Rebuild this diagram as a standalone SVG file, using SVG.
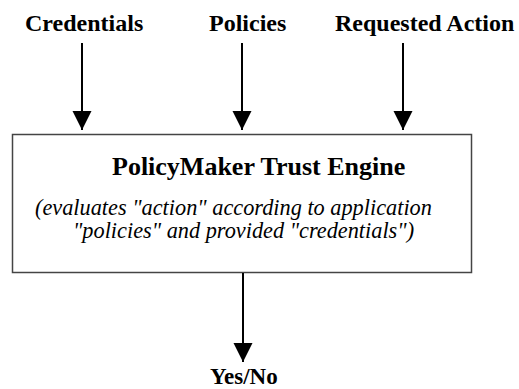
<svg xmlns="http://www.w3.org/2000/svg" width="519" height="389" viewBox="0 0 519 389">
<style>
.lbl{font-family:"Liberation Serif","Times New Roman",serif;font-weight:bold;font-size:24px;fill:#000}
.title{font-family:"Liberation Serif","Times New Roman",serif;font-weight:bold;font-size:26px;fill:#000}
.desc{font-family:"Liberation Serif","Times New Roman",serif;font-style:italic;font-size:22.3px;fill:#000}
.box{fill:#fff;stroke:#444;stroke-width:1.5}
.conn{stroke:#000;stroke-width:2;fill:none}
</style>
<defs>
<marker id="arr" markerUnits="userSpaceOnUse" markerWidth="20" markerHeight="22" refX="19" refY="10" orient="auto" viewBox="0 0 20 20">
<path d="M0,0.5 L19,10 L0,19.5 Z" fill="#000"/>
</marker>
</defs>
<rect width="519" height="389" fill="#fff"/>
<g id="credentials"><text class="lbl" x="25" y="31">Credentials</text></g>
<g id="policies"><text class="lbl" x="209" y="31">Policies</text></g>
<g id="requested-action"><text class="lbl" x="335" y="31">Requested Action</text></g>
<g id="engine">
<rect class="box" x="12.5" y="134.5" width="459" height="138"/>
<text class="title" x="112" y="175">PolicyMaker Trust Engine</text>
<text class="desc" x="35" y="215">(evaluates "action" according to application</text>
<text class="desc" x="73" y="238">"policies" and provided "credentials")</text>
</g>
<g id="result"><text class="lbl" x="210" y="383.5" style="font-size:23px">Yes/No</text></g>
<g id="connectors">
<line class="conn" x1="82" y1="43" x2="82" y2="130" marker-end="url(#arr)"/>
<line class="conn" x1="242" y1="43" x2="242" y2="130" marker-end="url(#arr)"/>
<line class="conn" x1="403" y1="43" x2="403" y2="130" marker-end="url(#arr)"/>
<line class="conn" x1="243" y1="273" x2="243" y2="362" marker-end="url(#arr)"/>
</g>
</svg>
